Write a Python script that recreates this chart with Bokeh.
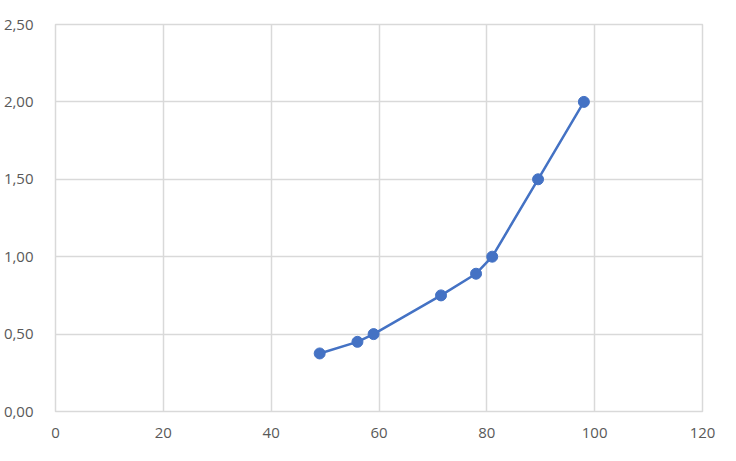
from bokeh.plotting import figure
from bokeh.models import Range1d, FixedTicker, CustomJSTickFormatter, ColumnDataSource
from bokeh.embed import file_html
from bokeh.resources import INLINE

x_vals = [49, 56, 59, 71.5, 78, 81, 89.5, 98]
y_vals = [0.375, 0.45, 0.5, 0.75, 0.89, 1.0, 1.5, 2.0]
x_ticks = [0, 20, 40, 60, 80, 100, 120]
y_ticks = [0, 0.5, 1.0, 1.5, 2.0, 2.5]

src = ColumnDataSource(data=dict(x=x_vals, y=y_vals))

p = figure(width=720, height=445, output_backend="svg", toolbar_location=None,
           x_range=Range1d(0, 120), y_range=Range1d(0, 2.5),
           min_border_left=55, min_border_right=18, min_border_top=24, min_border_bottom=34)

grid_col = "#d9d9d9"
p.outline_line_color = grid_col
p.outline_line_width = 1.5
p.background_fill_color = "white"
p.border_fill_color = "white"

p.xaxis.ticker = FixedTicker(ticks=x_ticks)
p.yaxis.ticker = FixedTicker(ticks=y_ticks)
p.yaxis.formatter = CustomJSTickFormatter(code="return tick.toFixed(2).replace('.', ',');")

for ax in (p.xaxis, p.yaxis):
    ax.axis_line_color = None
    ax.major_tick_line_color = None
    ax.minor_tick_line_color = None
    ax.major_label_text_font = "Open Sans"
    ax.major_label_text_font_size = "15px"
    ax.major_label_text_color = "#595959"
p.xaxis.major_label_standoff = 10
p.yaxis.major_label_standoff = 16

p.xgrid.grid_line_color = grid_col
p.ygrid.grid_line_color = grid_col
p.xgrid.grid_line_width = 1.5
p.ygrid.grid_line_width = 1.5

p.line("x", "y", source=src, line_color="#4472C4", line_width=2.5)
p.scatter("x", "y", source=src, size=11, fill_color="#4472C4", line_color="#4472C4")

open("out.html", "w").write(file_html(p, INLINE))
